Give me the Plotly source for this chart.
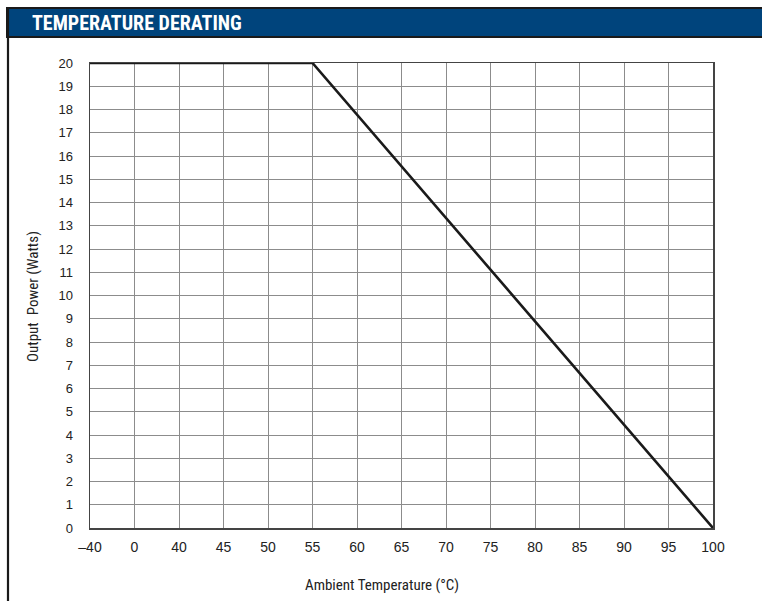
import plotly.graph_objects as go

# Data
temp_labels = ["–40", "0", "40", "45", "50", "55", "60", "65", "70", "75", "80", "85", "90", "95", "100"]
power_ticks = list(range(0, 21))
curve_temps = ["–40", "55", "100"]
curve_power = [20, 20, 0]

W, H = 762, 601
L, T = 90, 63
R = W - 713
B = H - 528
PW, PH = W - L - R, H - T - B

def px(x):
    return (x - L) / PW

def py(y):
    return (H - B - y) / PH

idx = {lab: i for i, lab in enumerate(temp_labels)}
fig = go.Figure()
fig.add_trace(go.Scatter(
    x=[idx[t] for t in curve_temps], y=curve_power, mode="lines",
    line=dict(color="#1a1a1a", width=2.6), hoverinfo="skip", showlegend=False,
    cliponaxis=False,
))

cond = "Roboto Condensed, Liberation Sans, Arial, sans-serif"

fig.update_layout(
    width=W, height=H,
    margin=dict(l=L, r=R, t=T, b=B),
    paper_bgcolor="white", plot_bgcolor="white",
    font=dict(family="Liberation Sans, Arial, sans-serif", size=13, color="#222"),
    xaxis=dict(
        range=[0, len(temp_labels) - 1],
        tickmode="array", tickvals=list(range(len(temp_labels))), ticktext=temp_labels,
        showgrid=True, gridcolor="#8c8c8c", gridwidth=1,
        showline=True, linecolor="#444", linewidth=1.5, mirror=True,
        zeroline=False, ticks="", ticklen=0, ticklabelstandoff=6,
        tickfont=dict(size=14, color="#222"),
        fixedrange=True,
    ),
    yaxis=dict(
        range=[0, 20],
        tickmode="array", tickvals=power_ticks, ticktext=[str(v) for v in power_ticks],
        showgrid=True, gridcolor="#8c8c8c", gridwidth=1,
        showline=True, linecolor="#444", linewidth=1.5, mirror=True,
        zeroline=False, ticks="", ticklen=0, ticklabelstandoff=13,
        tickfont=dict(size=13, color="#222"),
        fixedrange=True,
    ),
    shapes=[
        dict(type="rect", xref="paper", yref="paper",
             x0=px(7), x1=px(770), y0=py(37), y1=py(8),
             fillcolor="#00447c", line=dict(color="#1a1a1a", width=2), layer="below"),
        dict(type="line", xref="paper", yref="paper",
             x0=px(8), x1=px(8), y0=py(8), y1=py(610),
             line=dict(color="#1a1a1a", width=2.2)),
    ],
    annotations=[
        dict(text="<b>TEMPERATURE DERATING</b>", xref="paper", yref="paper",
             x=px(30), y=py(23), xanchor="left", yanchor="middle", showarrow=False,
             font=dict(family=cond, size=20, color="white")),
        dict(text="Ambient Temperature (°C)", xref="paper", yref="paper",
             x=px(382), y=py(585), xanchor="center", yanchor="middle", showarrow=False,
             font=dict(family=cond, size=15, color="#222")),
        dict(text="Output\u00a0\u00a0Power (Watts)", xref="paper", yref="paper",
             x=px(33), y=py(297), xanchor="center", yanchor="middle", showarrow=False,
             textangle=-90, font=dict(family=cond, size=15, color="#222")),
    ],
)

fig.write_html("out.html", config={"displayModeBar": False, "staticPlot": True},
               post_script="document.body.style.margin='0';document.body.style.overflow='hidden';")
